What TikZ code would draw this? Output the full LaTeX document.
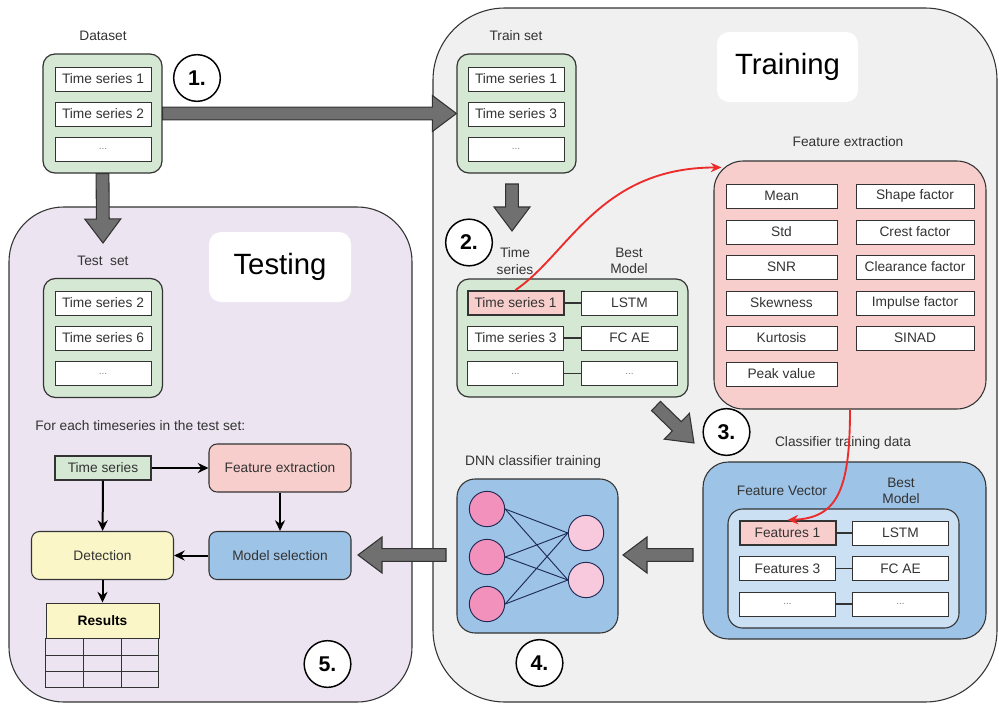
\documentclass[tikz,border=0pt]{standalone}
\usepackage{fontspec}
\setmainfont{Liberation Sans}
\usetikzlibrary{arrows.meta, calc}

\definecolor{panelgray}{HTML}{F0F0F0}
\definecolor{testlilac}{HTML}{ECE4F0}
\definecolor{setgreen}{HTML}{D5E8D4}
\definecolor{featpink}{HTML}{F8CECC}
\definecolor{clfblue}{HTML}{9DC3E6}
\definecolor{clflight}{HTML}{CCE0F4}
\definecolor{detyellow}{HTML}{FBF6C8}
\definecolor{inpink}{HTML}{F291BB}
\definecolor{outpink}{HTML}{F8C8DC}
\definecolor{netnavy}{HTML}{1F2A55}
\definecolor{linedark}{HTML}{333333}
\definecolor{arrowgray}{HTML}{707070}
\definecolor{hotred}{HTML}{EE2B2B}

% fat block arrow between two points
\newcommand{\bigarrow}[2]{%
  \coordinate (hb) at ($(#2)!18pt!(#1)$);
  \filldraw[bigarr] ($(#1)!4.8pt!90:(#2)$) -- ($(hb)!4.8pt!90:(#2)$)
    -- ($(hb)!13.5pt!90:(#2)$) -- (#2) -- ($(hb)!13.5pt!-90:(#2)$)
    -- ($(hb)!4.8pt!-90:(#2)$) -- ($(#1)!4.8pt!-90:(#2)$) -- cycle;}

\begin{document}
\begin{tikzpicture}[x=0.75pt, y=-0.75pt,
    font=\fontsize{10.3}{12.4}\selectfont, text=linedark,
    panel/.style={draw=linedark, line width=0.8pt, inner sep=0pt},
    title/.style={fill=white, rounded corners=9pt, minimum width=105.75pt,
      minimum height=52.5pt, text=black, font=\fontsize{22}{26}\selectfont},
    group/.style={draw=linedark, line width=0.9pt, fill=setgreen,
      rounded corners=9pt, inner sep=0pt},
    item/.style={draw=linedark, line width=0.7pt, fill=white,
      minimum width=72pt, minimum height=18pt, inner sep=0pt},
    pick/.style={item, fill=featpink, line width=1.5pt},
    dots/.style={item, text=gray, font=\fontsize{7.5}{8}\selectfont},
    fleft/.style={item, minimum width=83.25pt},
    fright/.style={item, minimum width=88.5pt},
    tag/.style={align=center, inner sep=0pt},
    stepno/.style={circle, draw=black, line width=1.1pt, fill=white,
      minimum size=35pt, inner sep=0pt, text=black,
      font=\fontsize{16}{19}\selectfont\bfseries},
    flowbox/.style={draw=linedark, line width=0.8pt, rounded corners=6pt,
      minimum width=106.5pt, minimum height=36pt, inner sep=0pt},
    flow/.style={-{Stealth[length=8pt, width=7.5pt]}, line width=1.5pt, black},
    hot/.style={-{Stealth[length=8pt, width=7pt]}, line width=1.4pt, draw=hotred},
    link/.style={draw=linedark, line width=0.8pt},
    bigarr/.style={draw=black!80, fill=arrowgray, line width=0.8pt},
    neuron/.style={circle, draw=netnavy, line width=0.7pt,
      minimum size=26.5pt, inner sep=0pt},
  ]
  \useasboundingbox (0,0) rectangle (999,703);

  % ---- the two phases ----
  \node[panel, fill=panelgray, rounded corners=54pt, minimum width=423pt,
    minimum height=520.5pt] (training) at (715,355) {};
  \node[panel, fill=testlilac, rounded corners=41pt, minimum width=302.25pt,
    minimum height=371.25pt] (testing) at (210.5,454.5) {};
  \node[title] (traintitle) at (787.5,67) {Training};
  \node[title, minimum width=106.5pt] (testtitle) at (280,267) {Testing};

  % ---- Dataset ----
  \node[tag] (datalbl) at (103,36) {Dataset};
  \node[group, minimum width=89.25pt, minimum height=89.25pt] (data) at (102.5,113.5) {};
  \node[item] (data1) at (103,79) {Time series 1};
  \node[item] (data2) at (103,114) {Time series 2};
  \node[dots] (data3) at (103,149) {...};

  % ---- Train set ----
  \node[tag] (trainlbl) at (516,36) {Train set};
  \node[group, minimum width=89.25pt, minimum height=89.25pt] (train) at (516.5,113.5) {};
  \node[item] (train1) at (516,79) {Time series 1};
  \node[item] (train2) at (516,114) {Time series 3};
  \node[dots] (train3) at (516,149) {...};

  % ---- Time series / best model pairs ----
  \node[tag] (tslbl) at (515,261) {Time\\series};
  \node[tag] (bmlbl) at (629,261) {Best\\Model};
  \node[group, minimum width=173.25pt, minimum height=88.5pt] (pairs) at (572.5,338) {};
  \node[pick] (ts1) at (515.5,303) {Time series 1};
  \node[item] (bm1) at (629.5,303) {LSTM};
  \node[item] (ts3) at (515.5,338) {Time series 3};
  \node[item] (bm3) at (629.5,338) {FC AE};
  \node[dots] (tsx) at (515.5,373.5) {...};
  \node[dots] (bmx) at (629.5,373.5) {...};
  \draw[link] (ts1) -- (bm1);
  \draw[link] (ts3) -- (bm3);
  \draw[link] (tsx) -- (bmx);

  % ---- Feature extraction ----
  \node[tag] (felbl) at (848,142) {Feature extraction};
  \node[panel, fill=featpink, rounded corners=22pt, minimum width=204pt,
    minimum height=186pt] (fe) at (850,285) {};
  \node[fleft] (fmean) at (781.5,196) {Mean};
  \node[fleft] (fstd) at (781.5,232) {Std};
  \node[fleft] (fsnr) at (781.5,267) {SNR};
  \node[fleft] (fskew) at (781.5,303) {Skewness};
  \node[fleft] (fkurt) at (781.5,338) {Kurtosis};
  \node[fleft] (fpeak) at (781.5,374) {Peak value};
  \node[fright] (fshape) at (915,196) {Shape factor};
  \node[fright] (fcrest) at (915,232) {Crest factor};
  \node[fright] (fclear) at (915,267) {Clearance factor};
  \node[fright] (fimp) at (915,303) {Impulse factor};
  \node[fright] (fsinad) at (915,338) {SINAD};

  % ---- Classifier training data ----
  \node[tag] (clflbl) at (843,443) {Classifier training data};
  \node[panel, fill=clfblue, rounded corners=19pt, minimum width=212.25pt,
    minimum height=132.75pt] (clf) at (844.5,550.5) {};
  \node[tag] (fvlbl) at (782,491) {Feature Vector};
  \node[tag] (cmlbl) at (901,491) {Best\\Model};
  \node[panel, fill=clflight, rounded corners=11pt, minimum width=173.25pt,
    minimum height=89.25pt] (clfin) at (843.5,568.5) {};
  \node[pick] (fv1) at (787.5,533) {Features 1};
  \node[item] (cm1) at (900.5,533) {LSTM};
  \node[item] (fv3) at (787.5,568.5) {Features 3};
  \node[item] (cm3) at (900.5,568.5) {FC AE};
  \node[dots] (fvx) at (787.5,604) {...};
  \node[dots] (cmx) at (900.5,604) {...};
  \draw[link] (fv1) -- (cm1);
  \draw[link] (fv3) -- (cm3);
  \draw[link] (fvx) -- (cmx);

  % ---- DNN classifier ----
  \node[tag] (dnnlbl) at (533,462) {DNN classifier training};
  \node[panel, fill=clfblue, rounded corners=13.5pt, minimum width=120.75pt,
    minimum height=115.5pt] (dnn) at (537.5,556) {};
  \node[neuron, fill=inpink] (n1) at (487,509) {};
  \node[neuron, fill=inpink] (n2) at (487,557) {};
  \node[neuron, fill=inpink] (n3) at (487,604) {};
  \node[neuron, fill=outpink] (o1) at (586,533) {};
  \node[neuron, fill=outpink] (o2) at (586,580) {};
  \foreach \i in {n1,n2,n3}
    \foreach \o in {o1,o2}
      \draw[netnavy, line width=0.7pt] (\i.east) -- (\o.west);

  % ---- Test set and per-series flow ----
  \node[tag] (testlbl) at (103,261) {Test\ \ set};
  \node[group, minimum width=89.25pt, minimum height=89.25pt] (test) at (103,338) {};
  \node[item] (test1) at (103,303) {Time series 2};
  \node[item] (test2) at (103,338) {Time series 6};
  \node[dots] (test3) at (103,373.5) {...};
  \node[tag, anchor=west] (eachlbl) at (35,426) {For each timeseries in the test set:};
  \node[item, fill=setgreen, line width=0.8pt] (tsin) at (103,468) {Time series};
  \node[flowbox, fill=featpink] (fext) at (280,468) {Feature extraction};
  \node[flowbox, fill=detyellow] (det) at (102.5,555.5) {Detection};
  \node[flowbox, fill=clfblue] (msel) at (280,555.5) {Model selection};
  \node[draw=linedark, line width=0.7pt, fill=detyellow, minimum width=84.75pt,
    minimum height=26.25pt, inner sep=0pt, text=black,
    font=\fontsize{10.3}{12.4}\selectfont\bfseries] (res) at (102.5,620.5) {Results};
  \begin{scope}[shift={(res.south west)}]
    \draw[link, line width=0.7pt] (0,0) rectangle (113,49);
    \draw[link, line width=0.7pt] (0,17) -- (113,17) (0,33) -- (113,33)
      (38,0) -- (38,49) (76,0) -- (76,49);
  \end{scope}
  \draw[flow] (tsin) -- (fext);
  \draw[flow] (tsin) -- (det);
  \draw[flow] (fext) -- (msel);
  \draw[flow] (msel) -- (det);
  \draw[flow] (det) -- (res);

  % ---- block arrows between stages ----
  \coordinate (testin) at (103,243);
  \coordinate (trainout) at (512,184);
  \coordinate (pairsin) at (512,231);
  \coordinate (pairsout) at (656,406);
  \coordinate (clfto) at (694,443);
  \coordinate (clfout) at (693,555);
  \coordinate (dnnin) at (623,555);
  \coordinate (dnnout) at (446,555);
  \coordinate (mselin) at (358,555);
  \bigarrow{data.east}{train.west}
  \bigarrow{data.south}{testin}
  \bigarrow{trainout}{pairsin}
  \bigarrow{pairsout}{clfto}
  \bigarrow{clfout}{dnnin}
  \bigarrow{dnnout}{mselin}

  % ---- step numbers ----
  \node[stepno] (one) at (197,78) {1.};
  \node[stepno] (two) at (469,242.5) {2.};
  \node[stepno] (three) at (726.5,432) {3.};
  \node[stepno] (four) at (539.5,663) {4.};
  \node[stepno] (five) at (327.5,664) {5.};

  % ---- example series followed through training ----
  \coordinate (fecorner) at ($(fe.north west)+(8,7)$);
  \draw[hot] (ts1.north) .. controls +(53,-36) and +(-122,0) .. (fecorner);
  \draw[hot] (fe.south) .. controls +(0,80) and +(50,-2) .. (fv1.north);

\end{tikzpicture}
\end{document}
